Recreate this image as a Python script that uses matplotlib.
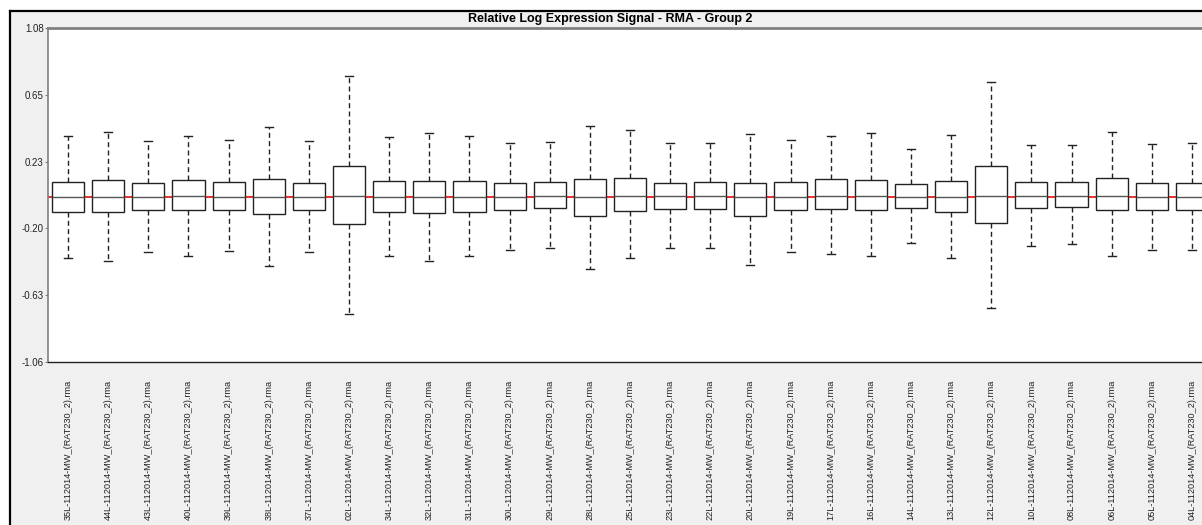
import numpy as np
import matplotlib
matplotlib.use("Agg")
import matplotlib.pyplot as plt
from matplotlib.patches import Rectangle
from matplotlib.lines import Line2D

# sample ids along the x axis
sample_ids = ["35L", "44L", "43L", "40L", "39L", "38L", "37L", "02L", "34L", "32L",
              "31L", "30L", "29L", "28L", "25L", "23L", "22L", "20L", "19L", "17L",
              "16L", "14L", "13L", "12L", "10L", "08L", "06L", "05L", "04L"]
labels = [s + "-112014-MW_(RAT230_2).rma" for s in sample_ids]

# box statistics
whis_hi = [0.391, 0.416, 0.354, 0.391, 0.361, 0.444, 0.354, 0.775, 0.380, 0.410,
           0.391, 0.342, 0.348, 0.453, 0.425, 0.342, 0.342, 0.404, 0.365, 0.391,
           0.410, 0.307, 0.397, 0.737, 0.331, 0.331, 0.416, 0.337, 0.342]
q3 = [0.096, 0.103, 0.088, 0.103, 0.092, 0.111, 0.088, 0.199, 0.098, 0.098,
      0.098, 0.088, 0.092, 0.111, 0.117, 0.088, 0.092, 0.088, 0.092, 0.111,
      0.109, 0.083, 0.098, 0.194, 0.092, 0.092, 0.117, 0.088, 0.088]
med = [0.000, 0.000, 0.000, 0.006, 0.000, 0.000, 0.000, 0.002, 0.000, 0.000,
       0.000, 0.000, 0.004, 0.000, 0.004, 0.004, 0.004, -0.004, 0.000, 0.004,
       0.004, 0.000, 0.000, 0.004, 0.004, 0.006, 0.004, 0.000, 0.000]
q1 = [-0.100, -0.100, -0.088, -0.085, -0.083, -0.111, -0.088, -0.177, -0.096, -0.107,
      -0.096, -0.085, -0.073, -0.122, -0.090, -0.079, -0.079, -0.122, -0.083, -0.079,
      -0.083, -0.073, -0.096, -0.167, -0.073, -0.068, -0.083, -0.085, -0.085]
whis_lo = [-0.395, -0.410, -0.357, -0.378, -0.350, -0.446, -0.357, -0.754, -0.378, -0.416,
           -0.382, -0.340, -0.329, -0.466, -0.395, -0.329, -0.329, -0.440, -0.357, -0.365,
           -0.382, -0.295, -0.395, -0.711, -0.318, -0.305, -0.384, -0.340, -0.340]

ytick_vals = np.linspace(-1.06, 1.08, 6)
ytick_labels = ["-1.06", "-0.63", "-0.20", "0.23", "0.65", "1.08"]

plt.rcParams['font.family'] = ['Liberation Sans', 'DejaVu Sans']

W, H = 1202, 525
fig = plt.figure(figsize=(W / 100, H / 100), dpi=100)
fig.patch.set_facecolor("white")

# window background + black frame on left/top
fig.add_artist(Rectangle((10 / W, 0), 1, 1 - 11 / H, transform=fig.transFigure,
                         facecolor="#f0f0f0", edgecolor="none", zorder=0))
fig.add_artist(Line2D([10 / W, 10 / W], [0, 1 - 11 / H], transform=fig.transFigure,
                      color="black", lw=1.6))
fig.add_artist(Line2D([10 / W, 1], [1 - 11 / H, 1 - 11 / H], transform=fig.transFigure,
                      color="black", lw=1.6))

# plot area (runs past the right edge, as in the cropped screenshot)
left, right, top, bottom = 48, 1212, 28, 362
ax = fig.add_axes([left / W, 1 - bottom / H, (right - left) / W, (bottom - top) / H])
ax.set_facecolor("white")

stats = []
for i in range(len(labels)):
    stats.append(dict(med=med[i], q1=q1[i], q3=q3[i], whislo=whis_lo[i],
                      whishi=whis_hi[i], fliers=[], label=labels[i]))

pos = np.arange(1, len(labels) + 1)
ax.axhline(0, color="#e82020", lw=1.3, zorder=1)
ax.bxp(stats, positions=pos, widths=0.8, capwidths=0.2, patch_artist=True,
       showfliers=False,
       boxprops=dict(facecolor="white", edgecolor="#222222", lw=1.0),
       whiskerprops=dict(color="#222222", lw=1.0, linestyle=(0, (3.6, 2.4))),
       capprops=dict(color="#222222", lw=1.0),
       medianprops=dict(color="#555555", lw=1.0),
       zorder=2)

ax.set_xlim(0.5, len(labels) + 0.5)
ax.set_ylim(-1.06, 1.08)
ax.set_yticks(ytick_vals)
ax.set_yticklabels(ytick_labels)
ax.set_xticks(pos)
ax.set_xticklabels(labels, rotation=90, fontsize=6.6, color="#222222")
ax.tick_params(axis="y", length=2, width=0.8, color="#808080", labelsize=7,
               pad=1, labelcolor="#222222")
ax.tick_params(axis="x", length=0, pad=13)

for s in ["left", "right"]:
    ax.spines[s].set_color("#808080")
    ax.spines[s].set_linewidth(1.2)
ax.spines["top"].set_color("#808080")
ax.spines["top"].set_linewidth(2.0)
ax.spines["bottom"].set_color("#222222")
ax.spines["bottom"].set_linewidth(1.0)

fig.text(610 / W, 1 - 19 / H, "Relative Log Expression Signal - RMA - Group 2",
         ha="center", va="center", fontsize=9, fontweight="bold")

fig.savefig("out.png", dpi=100)
